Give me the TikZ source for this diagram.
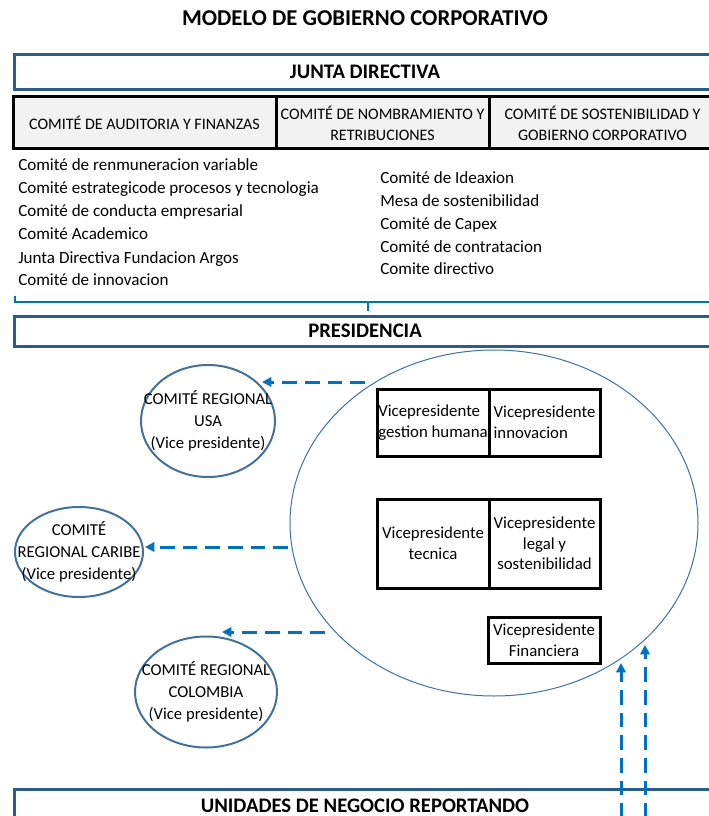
\documentclass[tikz,border=0pt]{standalone}
\usepackage{fontspec}
\setmainfont{Carlito}
\usetikzlibrary{shapes.geometric,arrows.meta}
\definecolor{bandblue}{HTML}{2E5C8A}
\definecolor{ringblue}{HTML}{41719C}
\definecolor{dashblue}{HTML}{0070C0}
\definecolor{cellgray}{HTML}{F2F2F2}

\begin{document}
\begin{tikzpicture}[x=0.75pt,y=-0.75pt,
  band/.style={draw=bandblue, line width=2.25pt, minimum width={702*0.75pt},
    inner sep=0pt, font=\fontsize{15.5}{18}\selectfont\bfseries},
  cell/.style={draw=black, line width=2.25pt, fill=cellgray, inner sep=0pt,
    align=center, font=\fontsize{12}{15.75}\selectfont},
  vpbox/.style={draw=black, line width=2.25pt, inner sep=0pt,
    font=\fontsize{12.6}{15.5}\selectfont},
  region/.style={ellipse, draw=ringblue, line width=1.5pt, inner sep=0pt},
  regiontext/.style={align=center, inner sep=0pt, font=\fontsize{12.5}{16.5}\selectfont},
  listline/.style={anchor=base west, inner sep=0pt, font=\fontsize{12.8}{15}\selectfont},
  flow/.style={draw=dashblue, line width=2.25pt, dash pattern=on 11pt off 6pt,
    -{Triangle[length=7pt,width=7pt]}},
  bracket/.style={draw=dashblue, line width=1.1pt}
]
\useasboundingbox (0,0) rectangle (709,816);
\clip (0,0) rectangle (709,816);

% title
\node[font=\fontsize{17}{20}\selectfont\bfseries] (title) at (365,18)
  {MODELO DE GOBIERNO CORPORATIVO};

% board band and its committees
\node[band, minimum height={35*0.75pt}] (junta) at (365,72) {JUNTA DIRECTIVA};
\node[cell, minimum width={263*0.75pt}, minimum height={52*0.75pt}] (audit) at (144.5,123)
  {COMITÉ DE AUDITORIA Y FINANZAS};
\node[cell, minimum width={213*0.75pt}, minimum height={52*0.75pt}] (nombra) at (382.5,123)
  {COMITÉ DE NOMBRAMIENTO Y\\RETRIBUCIONES};
\node[cell, minimum width={227*0.75pt}, minimum height={52*0.75pt}] (sosten) at (602.5,123)
  {COMITÉ DE SOSTENIBILIDAD Y\\GOBIERNO CORPORATIVO};

% support committees
\foreach \txt [count=\i] in {Comité de renmuneracion variable,
    Comité estrategicode procesos y tecnologia, Comité de conducta empresarial,
    Comité Academico, Junta Directiva Fundacion Argos, Comité de innovacion}
  \node[listline] (left\i) at (18,{148+23*\i}) {\txt};
\foreach \txt [count=\i] in {Comité de Ideaxion, Mesa de sostenibilidad,
    Comité de Capex, Comité de contratacion, Comite directivo}
  \node[listline] (right\i) at (380,{161+22.8*\i}) {\txt};

% bracket joining the committees to the presidency
\coordinate (brL) at (15,296);
\coordinate (brR) at (716,302);
\coordinate (brT) at (368,302);
\coordinate (brB) at (368,311);
\draw[bracket] (brL) |- (brR);
\draw[bracket, line width=2pt] (brT) -- (brB);

% presidency band
\node[band, minimum height={30*0.75pt}] (pres) at (365,331) {PRESIDENCIA};

% executive circle with vice presidencies
\node[ellipse, draw=ringblue, line width=0.75pt, inner sep=0pt,
  minimum width={408*0.75pt}, minimum height={346*0.75pt}] (core) at (494,523) {};
\node[vpbox, minimum width={112*0.75pt}, minimum height={67*0.75pt}, align=left]
  (vgh) at (433,422.5) {Vicepresidente\\gestion humana};
\node[vpbox, minimum width={111*0.75pt}, minimum height={67*0.75pt}, align=left]
  (vinn) at (544.5,422.5) {Vicepresidente\\innovacion};
\node[vpbox, minimum width={112*0.75pt}, minimum height={89*0.75pt}, align=center]
  (vtec) at (433,543.5) {Vicepresidente\\tecnica};
\node[vpbox, minimum width={111*0.75pt}, minimum height={89*0.75pt}, align=center]
  (vleg) at (544.5,543.5) {Vicepresidente\\legal y\\sostenibilidad};
\node[vpbox, minimum width={112*0.75pt}, minimum height={46*0.75pt}, align=center]
  (vfin) at (544,640) {Vicepresidente\\Financiera};

% regional committees
\node[region, minimum width={134*0.75pt}, minimum height={112*0.75pt}] (usa) at (208,421) {};
\node[regiontext] (usatext) at (usa) {COMITÉ REGIONAL\\USA\\(Vice presidente)};
\node[region, minimum width={128*0.75pt}, minimum height={90*0.75pt}] (caribe) at (79,552) {};
\node[regiontext] (caribetext) at (caribe) {COMITÉ\\REGIONAL CARIBE\\(Vice presidente)};
\node[region, minimum width={142*0.75pt}, minimum height={111*0.75pt}] (colombia) at (206,692) {};
\node[regiontext] (colombiatext) at (colombia) {COMITÉ REGIONAL\\COLOMBIA\\(Vice presidente)};

% business units band
\node[band, minimum height={34*0.75pt}] (units) at (365,806) {UNIDADES DE NEGOCIO REPORTANDO};

% reporting flows
\coordinate (f1s) at (365,382); \coordinate (f1e) at (262,382);
\coordinate (f2s) at (288,547); \coordinate (f2e) at (145,547);
\coordinate (f3s) at (325,632); \coordinate (f3e) at (222,632);
\coordinate (f4s) at (621,818); \coordinate (f4e) at (621,663);
\coordinate (f5s) at (645,818); \coordinate (f5e) at (645,645);
\draw[flow] (f1s) -- (f1e);
\draw[flow] (f2s) -- (f2e);
\draw[flow] (f3s) -- (f3e);
\draw[flow] (f4s) -- (f4e);
\draw[flow] (f5s) -- (f5e);
\end{tikzpicture}
\end{document}
